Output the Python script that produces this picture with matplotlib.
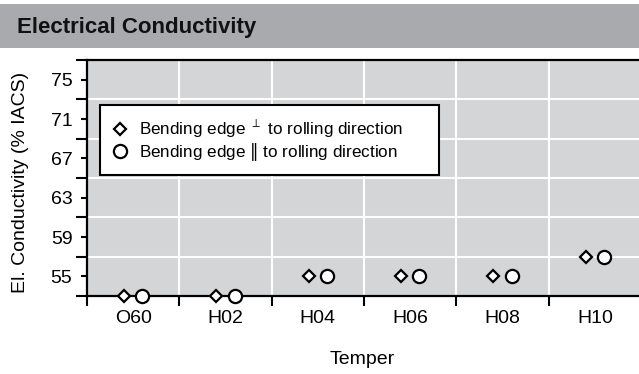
import matplotlib
matplotlib.use("Agg")
import matplotlib.pyplot as plt
from matplotlib.patches import Rectangle
from matplotlib.lines import Line2D
import numpy as np

plt.rcParams['font.family'] = ['Liberation Sans', 'DejaVu Sans']
plt.rcParams['mathtext.fontset'] = 'dejavusans'

categories = ['O60', 'H02', 'H04', 'H06', 'H08', 'H10']
perp_values = [53, 53, 55, 55, 55, 57]      # Bending edge ⊥ to rolling direction
par_values = [53, 53, 55, 55, 55, 57]       # Bending edge ‖ to rolling direction
y_label_ticks = [55, 59, 63, 67, 71, 75]
y_grid_ticks = [53, 57, 61, 65, 69, 73, 77]
legend_labels = [r'Bending edge ${}^{\perp}$ to rolling direction',
                 r'Bending edge $\Vert$ to rolling direction']

W, H = 639, 374
fig = plt.figure(figsize=(W / 100, H / 100), dpi=100)

# title band
fig.patches.append(Rectangle((0, 1 - 48 / H), 1, 44 / H, transform=fig.transFigure,
                             facecolor='#a9aaae', edgecolor='none', zorder=0))
fig.text(17 / W, 1 - 32.7 / H, 'Electrical Conductivity', fontsize=16, fontweight='bold',
         va='baseline', ha='left', color='#111111')

left, right, top, bottom = 87, 641, 60, 296
ax = fig.add_axes([left / W, (H - bottom) / H, (right - left) / W, (bottom - top) / H])
ax.set_facecolor('#d4d5d7')

x = np.arange(len(categories))
off = 0.1
d_ms, c_ms, mew = 6.0, 9.5, 1.6
ax.plot(x - off, perp_values, linestyle='none', marker='D', markersize=d_ms,
        markerfacecolor='white', markeredgecolor='black', markeredgewidth=mew,
        clip_on=False, zorder=5)
ax.plot(x + off, par_values, linestyle='none', marker='o', markersize=c_ms,
        markerfacecolor='white', markeredgecolor='black', markeredgewidth=mew,
        clip_on=False, zorder=5)

ax.set_xlim(-0.5, len(categories) - 0.5)
ax.set_ylim(53, 77)

# x ticks: boundaries (major, with grid) and category labels (minor)
ax.set_xticks(np.arange(-0.5, len(categories), 1.0))
ax.set_xticklabels([])
ax.set_xticks(x, minor=True)
ax.set_xticklabels(categories, minor=True, fontsize=14)
ax.tick_params(axis='x', which='major', length=7.5, width=1.5, direction='out')
ax.tick_params(axis='x', which='minor', length=0, pad=10)

ax.set_yticks(y_grid_ticks)
ax.set_yticklabels([])
ax.set_yticks(y_label_ticks, minor=True)
ax.set_yticklabels([str(v) for v in y_label_ticks], minor=True, fontsize=14)
ax.tick_params(axis='y', which='major', length=8, width=1.5, direction='out')
ax.tick_params(axis='y', which='minor', length=4.5, width=1.5, direction='out', pad=6)

ax.grid(True, which='major', color='white', linewidth=1.5)
ax.set_axisbelow(True)
for s in ['left', 'bottom', 'top']:
    ax.spines[s].set_linewidth(1.6)
    ax.spines[s].set_color('black')
ax.spines['right'].set_visible(False)

ax.set_xlabel('Temper', fontsize=14)
ax.xaxis.set_label_coords(0.497, -0.235)
ax.xaxis.label.set_va('top')

fig.text(20.5 / W, 1 - 182 / H, 'El. Conductivity (% IACS)', fontsize=14,
         rotation=90, ha='center', va='center')

handles = [
    Line2D([], [], linestyle='none', marker='D', markersize=d_ms, markerfacecolor='white',
           markeredgecolor='black', markeredgewidth=mew),
    Line2D([], [], linestyle='none', marker='o', markersize=c_ms, markerfacecolor='white',
           markeredgecolor='black', markeredgewidth=mew),
]
lx0 = (100 - left) / (right - left)
lw = (439 - 100) / (right - left)
ltop = (bottom - 105) / (bottom - top)
leg = ax.legend(handles, legend_labels, loc='upper left', mode='expand',
                bbox_to_anchor=(lx0, ltop - 0.3, lw, 0.3),
                borderaxespad=0, fontsize=12.3, frameon=True, fancybox=False,
                framealpha=1, edgecolor='black', facecolor='white',
                handlelength=0.86, handletextpad=0.72, borderpad=0.72, labelspacing=0.05)
leg.get_frame().set_linewidth(1.5)
leg.set_zorder(10)

fig.savefig('out.png', dpi=100)
